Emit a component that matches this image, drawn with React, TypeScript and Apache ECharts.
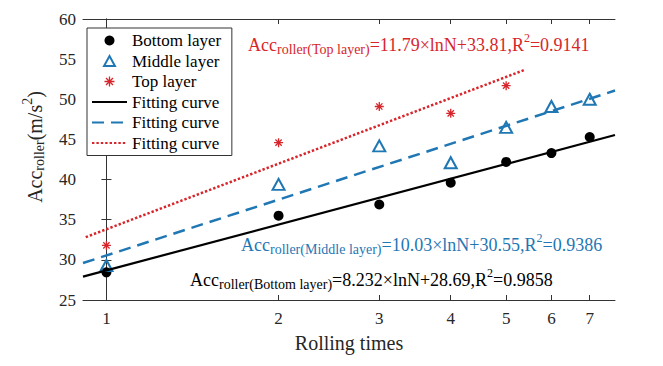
import React, { useEffect, useRef } from "react";
import * as echarts from "echarts";

// ---- data ----
const rollingTimes = [1, 2, 3, 4, 5, 6, 7];
const bottomLayer = [28.45, 35.5, 36.9, 39.6, 42.2, 43.3, 45.3];
const middleLayer = [29.3, 39.4, 44.2, 42.1, 46.5, 49.1, 50.0];
const topTimes = [1, 2, 3, 4, 5];
const topLayer = [31.8, 44.6, 49.1, 48.25, 51.7];

const xTickValues = [1, 2, 3, 4, 5, 6, 7];
const xMin = 0.91;
const xMax = 7.75;
const yMin = 25;
const yMax = 60;
const yStep = 5;

// fitting curves: Acc = slope * lnN + intercept
const fitNames = ["Fitting curve", "Fitting curve ", "Fitting curve  "];
const fitSlopes = [8.232, 10.03, 11.79];
const fitIntercepts = [28.69, 30.55, 33.81];
const fitR2 = ["0.9858", "0.9386", "0.9141"];
const fitStartN = [0.91, 0.91, 0.92];
const fitEndN = [7.75, 7.75, 5.4];
const fitLayerLabels = ["Bottom layer", "Middle layer", "Top layer"];

const FONT = "'Liberation Serif', 'Times New Roman', serif";
const BLACK = "#000000";
const BLUE = "#1f77b4";
const RED = "#d7262b";
const AXIS = "#333333";
const STAR = "path://M0,-10L0,10M-10,0L10,0M-7,-7L7,7M-7,7L7,-7";
const TRI = "path://M6,0L12,11L0,11Z";

function richFor(color: string) {
  return {
    m: { fontSize: 18, lineHeight: 18, padding: [0, 0, 9, 0], fill: color, fontFamily: FONT },
    s: { fontSize: 14, lineHeight: 14, fill: color, fontFamily: FONT },
    p: { fontSize: 12, lineHeight: 12, padding: [0, 0, 22, 0], fill: color, fontFamily: FONT },
  };
}

function eqText(i: number) {
  return (
    "{m|Acc}{s|roller(" + fitLayerLabels[i] + ")}{m|=" + fitSlopes[i] + "×lnN+" +
    fitIntercepts[i] + ",R}{p|2}{m|=" + fitR2[i] + "}"
  );
}

export default function App() {
  const ref = useRef<HTMLDivElement>(null);
  useEffect(() => {
    if (!ref.current) return;
    const chart = echarts.init(ref.current, null, { renderer: "svg" });
    const ln = Math.log;
    const fitData = (i: number) => [
      [ln(fitStartN[i]), fitSlopes[i] * ln(fitStartN[i]) + fitIntercepts[i]],
      [ln(fitEndN[i]), fitSlopes[i] * ln(fitEndN[i]) + fitIntercepts[i]],
    ];
    const tickLn = xTickValues.map((v) => ln(v));
    const fmtX = (v: number) => String(Math.round(Math.exp(v)));
    const baseX = {
      type: "value",
      min: ln(xMin),
      max: ln(xMax),
      axisLine: { show: true, onZero: false, lineStyle: { color: AXIS, width: 1 } },
      axisTick: { show: true, inside: true, length: 5, customValues: tickLn, lineStyle: { color: AXIS } },
      splitLine: { show: false },
    };
    const baseY = {
      type: "value",
      min: yMin,
      max: yMax,
      interval: yStep,
      axisLine: { show: true, lineStyle: { color: AXIS, width: 1 } },
      axisTick: { show: true, inside: true, length: 5, lineStyle: { color: AXIS } },
      splitLine: { show: false },
    };
    const hiddenSymbol = { color: "transparent", borderColor: "transparent", borderWidth: 0, opacity: 0 };
    const option: any = {
      animation: false,
      backgroundColor: "#ffffff",
      grid: { left: 83, right: 48, top: 19, bottom: 66, containLabel: false },
      xAxis: [
        {
          ...baseX,
          position: "bottom",
          axisLabel: {
            customValues: tickLn,
            formatter: fmtX,
            fontSize: 17,
            fontFamily: FONT,
            color: "#262626",
            margin: 10,
          },
          name: "Rolling times",
          nameLocation: "middle",
          nameGap: 33,
          nameTextStyle: { fontSize: 20, fontFamily: FONT, color: "#262626" },
        },
        { ...baseX, position: "top", axisLabel: { show: false } },
      ],
      yAxis: [
        {
          ...baseY,
          position: "left",
          axisLabel: { fontSize: 17, fontFamily: FONT, color: "#262626", margin: 7 },
        },
        { ...baseY, position: "right", axisLabel: { show: false } },
      ],
      legend: {
        orient: "vertical",
        left: 87,
        top: 28,
        padding: [4, 4, 4, 4],
        itemWidth: 35,
        itemHeight: 10,
        itemGap: 3.5,
        symbolKeepAspect: true,
        borderColor: AXIS,
        borderWidth: 1,
        backgroundColor: "#ffffff",
        textStyle: { fontSize: 17, fontFamily: FONT, color: "#000" },
        data: [
          { name: "Bottom layer", icon: "circle", itemStyle: { color: BLACK } },
          { name: "Middle layer", icon: TRI, itemStyle: { color: "transparent", borderColor: BLUE, borderWidth: 2 } },
          { name: "Top layer", icon: STAR, itemStyle: { color: "transparent", borderColor: RED, borderWidth: 1.3 } },
          { name: fitNames[0], itemStyle: hiddenSymbol },
          { name: fitNames[1], itemStyle: hiddenSymbol },
          { name: fitNames[2], itemStyle: hiddenSymbol },
        ],
      },
      series: [
        {
          name: "Bottom layer",
          type: "scatter",
          symbol: "circle",
          symbolSize: 10,
          itemStyle: { color: BLACK, opacity: 1 },
          data: rollingTimes.map((n, i) => [ln(n), bottomLayer[i]]),
        },
        {
          name: "Middle layer",
          type: "scatter",
          symbol: "triangle",
          symbolSize: [12, 11],
          itemStyle: { color: "transparent", borderColor: BLUE, borderWidth: 2, opacity: 1 },
          data: rollingTimes.map((n, i) => [ln(n), middleLayer[i]]),
        },
        {
          name: "Top layer",
          type: "scatter",
          symbol: STAR,
          symbolSize: 9,
          itemStyle: { color: "transparent", borderColor: RED, borderWidth: 1.3, opacity: 1 },
          data: topTimes.map((n, i) => [ln(n), topLayer[i]]),
        },
        {
          name: fitNames[0],
          type: "line",
          symbol: "none",
          lineStyle: { color: BLACK, width: 2.2, type: "solid" },
          itemStyle: { color: BLACK },
          data: fitData(0),
        },
        {
          name: fitNames[1],
          type: "line",
          symbol: "none",
          lineStyle: { color: BLUE, width: 2.5, type: [12, 7] },
          itemStyle: { color: BLUE },
          data: fitData(1),
        },
        {
          name: fitNames[2],
          type: "line",
          symbol: "none",
          lineStyle: { color: RED, width: 2.5, type: [2.4, 2] },
          itemStyle: { color: RED },
          data: fitData(2),
        },
      ],
      graphic: [
        {
          type: "text",
          x: 248,
          y: 58,
          style: { text: eqText(2), rich: richFor(RED), fill: RED, fontFamily: FONT, fontSize: 18, align: "left", verticalAlign: "bottom" },
        },
        {
          type: "text",
          x: 241,
          y: 258,
          style: { text: eqText(1), rich: richFor(BLUE), fill: BLUE, fontFamily: FONT, fontSize: 18, align: "left", verticalAlign: "bottom" },
        },
        {
          type: "text",
          x: 190,
          y: 293,
          style: { text: eqText(0), rich: richFor(BLACK), fill: BLACK, fontFamily: FONT, fontSize: 18, align: "left", verticalAlign: "bottom" },
        },
        {
          type: "text",
          x: 49,
          y: 147,
          rotation: Math.PI / 2,
          style: {
            text: "{m|Acc}{s|roller}{m|(m/s}{p|2}{m|)}",
            rich: {
              m: { fontSize: 20, lineHeight: 20, padding: [0, 0, 9, 0], fill: "#262626", fontFamily: FONT },
              s: { fontSize: 14, lineHeight: 14, fill: "#262626", fontFamily: FONT },
              p: { fontSize: 14, lineHeight: 14, padding: [0, 0, 23, 0], fill: "#262626", fontFamily: FONT },
            },
            fill: "#262626",
            fontFamily: FONT,
            align: "center",
            verticalAlign: "bottom",
          },
        },
      ],
    };
    chart.setOption(option);
    return () => chart.dispose();
  }, []);
  return <div ref={ref} style={{ width: 663, height: 366, position: "absolute", left: 0, top: 0 }} />;
}
